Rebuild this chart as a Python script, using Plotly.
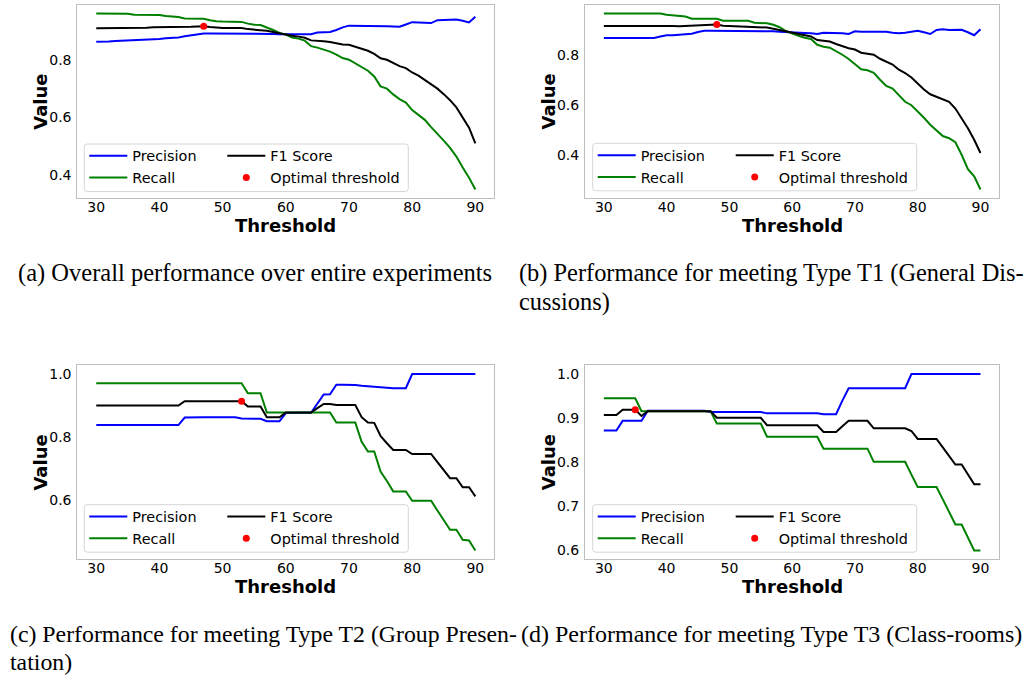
import plotly.graph_objects as go

# Thresholds evaluated (percent)
thresholds = list(range(30, 91))

# (a) Overall performance
prec_a = [0.862, 0.862, 0.863, 0.865, 0.866, 0.866, 0.866, 0.867, 0.869, 0.870,
          0.872, 0.874, 0.875, 0.877, 0.881, 0.885, 0.889, 0.891, 0.891, 0.891,
          0.891, 0.891, 0.891, 0.891, 0.890, 0.890, 0.890, 0.889, 0.889, 0.888,
          0.888, 0.888, 0.887, 0.887, 0.888, 0.894, 0.895, 0.896, 0.903, 0.912,
          0.918, 0.918, 0.917, 0.917, 0.916, 0.916, 0.916, 0.915, 0.914, 0.922,
          0.930, 0.929, 0.928, 0.927, 0.937, 0.937, 0.938, 0.939, 0.935, 0.929, 0.949]
rec_a = [0.960, 0.960, 0.960, 0.960, 0.960, 0.959, 0.956, 0.956, 0.956, 0.956,
         0.955, 0.951, 0.949, 0.948, 0.943, 0.943, 0.943, 0.942, 0.937, 0.933,
         0.932, 0.932, 0.932, 0.931, 0.925, 0.921, 0.920, 0.912, 0.903, 0.893,
         0.887, 0.877, 0.873, 0.866, 0.847, 0.842, 0.836, 0.828, 0.818, 0.806,
         0.800, 0.788, 0.776, 0.762, 0.742, 0.708, 0.700, 0.680, 0.664, 0.652,
         0.626, 0.609, 0.592, 0.567, 0.545, 0.520, 0.495, 0.465, 0.427, 0.392, 0.351]
f1_a = [0.909, 0.909, 0.909, 0.910, 0.910, 0.911, 0.911, 0.910, 0.911, 0.912,
        0.912, 0.912, 0.912, 0.913, 0.913, 0.914, 0.915, 0.916, 0.913, 0.911,
        0.910, 0.910, 0.910, 0.910, 0.906, 0.904, 0.903, 0.900, 0.896, 0.891,
        0.887, 0.883, 0.880, 0.876, 0.867, 0.866, 0.864, 0.861, 0.856, 0.853,
        0.852, 0.845, 0.838, 0.831, 0.820, 0.805, 0.800, 0.790, 0.778, 0.771,
        0.756, 0.745, 0.731, 0.715, 0.700, 0.681, 0.660, 0.635, 0.598, 0.565, 0.511]

# (b) Meeting type T1
prec_b = [0.867] * 9 + [0.873, 0.878, 0.878, 0.879, 0.883, 0.884, 0.891, 0.896, 0.896,
          0.896, 0.896, 0.896, 0.896, 0.896, 0.895, 0.895, 0.895, 0.895, 0.894, 0.892,
          0.890, 0.890, 0.888, 0.887, 0.886, 0.883, 0.888, 0.888, 0.887, 0.886, 0.883,
          0.894, 0.892, 0.892, 0.892, 0.892, 0.892, 0.888, 0.886, 0.888, 0.892, 0.896,
          0.890, 0.883, 0.899, 0.902, 0.899, 0.899, 0.900, 0.890, 0.878, 0.902]
rec_b = [0.965] * 10 + [0.960, 0.958, 0.953, 0.953, 0.944, 0.944, 0.944, 0.944, 0.944,
         0.936, 0.936, 0.936, 0.936, 0.936, 0.928, 0.928, 0.926, 0.920, 0.910, 0.895,
         0.884, 0.876, 0.868, 0.863, 0.840, 0.832, 0.828, 0.815, 0.800, 0.783, 0.762,
         0.742, 0.738, 0.728, 0.700, 0.675, 0.665, 0.640, 0.612, 0.598, 0.574, 0.548,
         0.520, 0.498, 0.475, 0.466, 0.450, 0.400, 0.342, 0.314, 0.261]
f1_b = [0.915] * 9 + [0.918, 0.916, 0.915, 0.914, 0.915, 0.916, 0.918, 0.920, 0.920,
        0.921, 0.916, 0.915, 0.915, 0.915, 0.915, 0.911, 0.910, 0.909, 0.904, 0.899,
        0.892, 0.887, 0.882, 0.878, 0.873, 0.859, 0.855, 0.853, 0.843, 0.834, 0.826,
        0.821, 0.808, 0.804, 0.800, 0.784, 0.771, 0.761, 0.740, 0.727, 0.709, 0.685,
        0.661, 0.642, 0.632, 0.621, 0.612, 0.585, 0.546, 0.506, 0.460, 0.407]

# (c) Meeting type T2
prec_c = [0.838] * 14 + [0.862] + [0.863] * 8 + [0.859, 0.858, 0.858, 0.858, 0.850,
          0.850, 0.850, 0.876, 0.877, 0.877, 0.877, 0.877, 0.906, 0.935, 0.936, 0.966,
          0.966, 0.966, 0.965, 0.963, 0.962, 0.961, 0.958, 0.957, 0.955, 0.955, 0.955] + [1.0] * 11
rec_c = [0.971] * 24 + [0.939] * 3 + [0.878] * 11 + [0.846] * 4 + [0.785, 0.754, 0.754,
         0.690, 0.660, 0.627, 0.627, 0.627, 0.597, 0.597, 0.597, 0.597, 0.566, 0.535,
         0.505, 0.505, 0.473, 0.471, 0.439]
f1_c = [0.900] * 14 + [0.914] * 10 + [0.897] * 3 + [0.863] * 3 + [0.878] * 5 + [0.892,
        0.905, 0.905, 0.902, 0.902, 0.902, 0.902, 0.863, 0.846, 0.845, 0.803, 0.780,
        0.759, 0.759, 0.759, 0.746, 0.746, 0.746, 0.746, 0.720, 0.695, 0.669, 0.669,
        0.640, 0.640, 0.611]

# (d) Meeting type T3
prec_d = [0.872] * 3 + [0.894] * 4 + [0.917] * 10 + [0.914] * 9 + [0.911] * 9 + \
         [0.909] * 3 + [0.940] + [0.968] * 10 + [1.0] * 12
rec_d = [0.945] * 6 + [0.916] * 12 + [0.888] * 8 + [0.858] * 9 + [0.831] * 8 + \
        [0.801] * 6 + [0.772] + [0.744] * 4 + [0.716, 0.687, 0.659, 0.659, 0.630, 0.600, 0.600]
f1_d = [0.907] * 3 + [0.919] * 3 + [0.905] + [0.916] * 11 + [0.901] * 8 + [0.884] * 9 + \
       [0.869] * 3 + [0.882] + [0.894] * 4 + [0.877] * 6 + [0.871] + [0.853] * 4 + \
       [0.834, 0.814, 0.795, 0.795, 0.773, 0.750, 0.750]

# Threshold chosen as optimal in each panel
optimal_thresholds = [47, 48, 53, 35]

# y tick values per panel
yticks_ab = [0.4, 0.6, 0.8]
yticks_c = [0.6, 0.8, 1.0]
yticks_d = [0.6, 0.7, 0.8, 0.9, 1.0]
xticks = [30, 40, 50, 60, 70, 80, 90]

captions = [
    "(a) Overall performance over entire experiments",
    "(b) Performance for meeting Type T1 (General Dis-",
    "cussions)",
    "(c) Performance for meeting Type T2 (Group Presen-",
    "tation)",
    "(d) Performance for meeting Type T3 (Class-rooms)",
]

W, H = 1025, 680


def px(x):
    return x / W


def py(y):
    return 1 - y / H


# pixel frames of the four axes: left, right, top, bottom
frames = [(77.3, 494.3, 4.7, 198.3), (585.0, 999.3, 4.7, 198.3),
          (77.3, 494.3, 365.3, 559.3), (585.0, 999.3, 365.3, 559.3)]
legend_boxes = [(84.3, 144.0), (592.7, 143.3), (84.3, 504.7), (592.7, 504.7)]
LEG_W, LEG_H = 324.0, 47.5

panels = [
    (prec_a, rec_a, f1_a, yticks_ab),
    (prec_b, rec_b, f1_b, yticks_ab),
    (prec_c, rec_c, f1_c, yticks_c),
    (prec_d, rec_d, f1_d, yticks_d),
]

FONT = "DejaVu Sans"
BORDER = "#bfbfbf"

fig = go.Figure()
layout = dict(
    width=W, height=H,
    margin=dict(l=0, r=0, t=0, b=0),
    paper_bgcolor="white", plot_bgcolor="white",
    showlegend=True,
    annotations=[], shapes=[],
)

for i, (prec, rec, f1, yticks) in enumerate(panels):
    n = i + 1
    xa = "x" if n == 1 else f"x{n}"
    ya = "y" if n == 1 else f"y{n}"
    leg1 = "legend" if n == 1 else f"legend{2 * n - 1}"
    leg2 = f"legend{2 * n}"

    fig.add_trace(go.Scatter(x=thresholds, y=prec, mode="lines", name="Precision",
                             line=dict(color="#0000ff", width=2),
                             xaxis=xa, yaxis=ya, legend=leg1))
    fig.add_trace(go.Scatter(x=thresholds, y=rec, mode="lines", name="Recall",
                             line=dict(color="#008000", width=2),
                             xaxis=xa, yaxis=ya, legend=leg1))
    fig.add_trace(go.Scatter(x=thresholds, y=f1, mode="lines", name="F1 Score",
                             line=dict(color="#000000", width=2),
                             xaxis=xa, yaxis=ya, legend=leg2))
    t_opt = optimal_thresholds[i]
    fig.add_trace(go.Scatter(x=[t_opt], y=[f1[thresholds.index(t_opt)]], mode="markers",
                             name="Optimal threshold",
                             marker=dict(color="red", size=7),
                             xaxis=xa, yaxis=ya, legend=leg2))

    left, right, top, bottom = frames[i]
    lo = min(min(prec), min(rec), min(f1))
    hi = max(max(prec), max(rec), max(f1))
    pad = 0.05 * (hi - lo)

    axis_common = dict(showline=True, mirror=True, linecolor=BORDER, linewidth=1,
                       showgrid=False, zeroline=False, ticks="",
                       tickfont=dict(family=FONT, size=14, color="black"))
    layout["xaxis" if n == 1 else f"xaxis{n}"] = dict(
        axis_common, domain=[px(left), px(right)], range=[27, 93],
        tickvals=xticks, anchor=ya, ticklabelstandoff=-4)
    layout["yaxis" if n == 1 else f"yaxis{n}"] = dict(
        axis_common, domain=[py(bottom), py(top)], range=[lo - pad, hi + pad],
        tickvals=yticks, tickformat=".1f", anchor=xa, ticklabelstandoff=2)

    # axis titles
    layout["annotations"].append(dict(
        text="<b>Threshold</b>", x=px((left + right) / 2), y=py(bottom + 27),
        xref="paper", yref="paper", showarrow=False, xanchor="center", yanchor="middle",
        font=dict(family=FONT, size=18, color="black")))
    layout["annotations"].append(dict(
        text="<b>Value</b>", x=px(left - 37), y=py((top + bottom) / 2), textangle=-90,
        xref="paper", yref="paper", showarrow=False, xanchor="center", yanchor="middle",
        font=dict(family=FONT, size=18, color="black")))

    # legend box with rounded corners
    bx, by = legend_boxes[i]
    r = 3.0
    x0, x1, y0, y1 = bx, bx + LEG_W, by, by + LEG_H
    path = (f"M {px(x0 + r)} {py(y0)} L {px(x1 - r)} {py(y0)} Q {px(x1)} {py(y0)} {px(x1)} {py(y0 + r)} "
            f"L {px(x1)} {py(y1 - r)} Q {px(x1)} {py(y1)} {px(x1 - r)} {py(y1)} "
            f"L {px(x0 + r)} {py(y1)} Q {px(x0)} {py(y1)} {px(x0)} {py(y1 - r)} "
            f"L {px(x0)} {py(y0 + r)} Q {px(x0)} {py(y0)} {px(x0 + r)} {py(y0)} Z")
    layout["shapes"].append(dict(type="path", path=path, xref="paper", yref="paper",
                                 fillcolor="rgba(255,255,255,0.8)",
                                 line=dict(color="#d6d6d6", width=1), layer="above"))
    leg_style = dict(font=dict(family=FONT, size=14.4, color="black"),
                     bgcolor="rgba(0,0,0,0)", borderwidth=0, orientation="v",
                     xanchor="left", yanchor="top", itemwidth=38, tracegroupgap=0,
                     y=py(by - 4))
    layout[leg1] = dict(leg_style, x=px(bx))
    layout[leg2] = dict(leg_style, x=px(bx + 138))

# sub-figure captions: text, x, y, anchor, size
CAP_FAMILY = "Liberation Serif"
cap_pos = [(255, 273, "center", 24.5), (517, 273, "left", 24.4), (517, 302, "left", 24.4),
           (8, 634, "left", 23.8), (8, 662, "left", 23.8), (519, 634, "left", 24.0)]
for text, (cx, cy, anchor, size) in zip(captions, cap_pos):
    layout["annotations"].append(dict(
        text=text, x=px(cx), y=py(cy), xref="paper", yref="paper", showarrow=False,
        xanchor=anchor, yanchor="middle",
        font=dict(family=CAP_FAMILY, size=size, color="black")))

fig.update_layout(**layout)
fig.write_html("out.html")
